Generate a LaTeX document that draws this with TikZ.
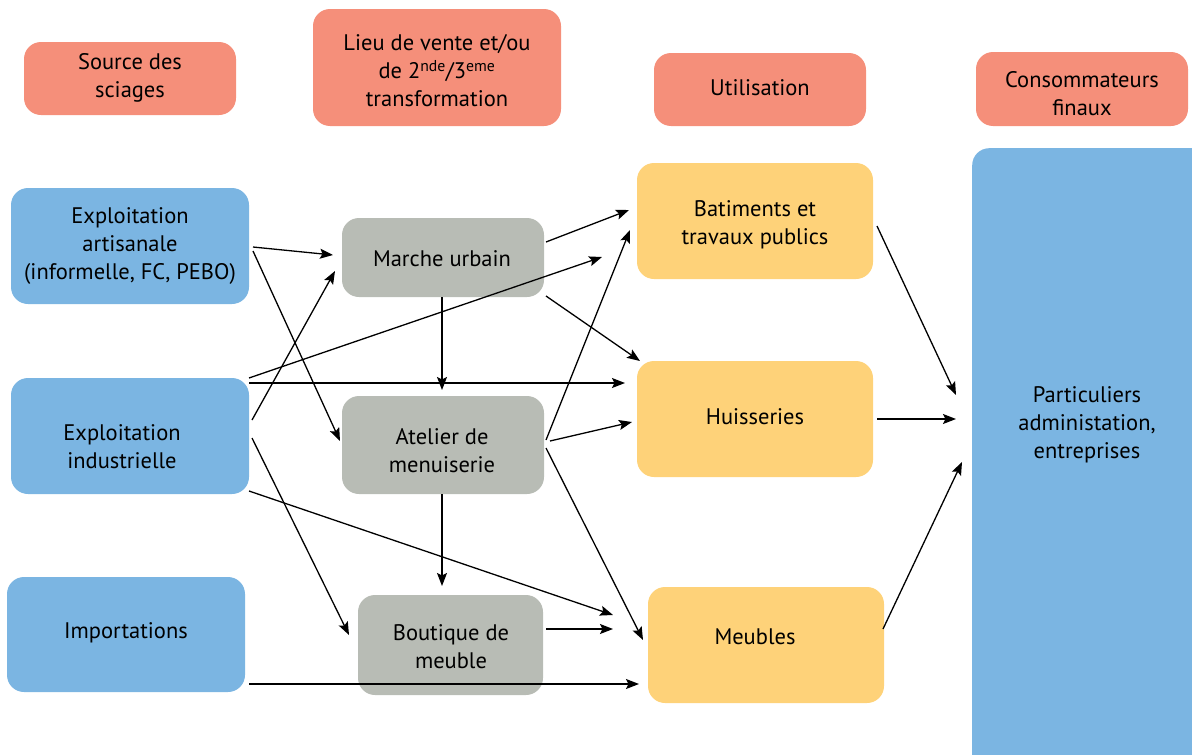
\documentclass[tikz,border=0pt]{standalone}
\usepackage{fontspec}
\setmainfont{PT Sans}
\usetikzlibrary{arrows.meta}
\definecolor{hdr}{HTML}{F58F7A}
\definecolor{src}{HTML}{7BB5E2}
\definecolor{mid}{HTML}{B8BCB5}
\definecolor{use}{HTML}{FED279}
\tikzset{
  box/.style={draw=none, rounded corners=17pt, inner sep=0pt},
  txt/.style={align=center, font=\fontsize{22.5}{28}\selectfont, text=black, inner sep=0pt},
  arr/.style={line width=1.3pt, -{Stealth[length=13pt,width=10pt,inset=2.5pt]}},
}
\newcommand{\mybox}[7]{\node[box,fill=#1,minimum width=#5pt,minimum height=#6pt] (#2) at (#3,#4) {};}
\begin{document}
\begin{tikzpicture}[x=1pt,y=-1pt]
\useasboundingbox (0,0) rectangle (1192,755);
% headers
\mybox{hdr}{h1}{130}{78.5}{212}{73}{}
\mybox{hdr}{h2}{437}{67.5}{248}{117}{}
\mybox{hdr}{h3}{760}{89.5}{212}{73}{}
\mybox{hdr}{h4}{1082}{89}{212}{74}{}
% sources
\mybox{src}{art}{130}{246}{238}{116}{}
\mybox{src}{ind}{130}{436}{238}{116}{}
\mybox{src}{imp}{126}{634.5}{238}{115}{}
% final consumers
\node[box,fill=src,minimum width=240pt,minimum height=640pt,anchor=north west] (fin) at (972,148) {};
% middle
\mybox{mid}{mar}{443}{257.5}{202}{79}{}
\mybox{mid}{ate}{443}{445}{202}{98}{}
\mybox{mid}{bou}{450.5}{645}{185}{100}{}
% use
\mybox{use}{bat}{755}{221}{236}{116}{}
\mybox{use}{hui}{755}{419}{236}{116}{}
\mybox{use}{meu}{766}{645}{236}{116}{}
% texts
\node[txt] (th1) at (130,78) {Source des\\sciages};
\node[txt] (th2) at (437,71) {Lieu de vente et/ou\\de 2\textsuperscript{nde}/3\textsuperscript{eme}\\transformation};
\node[txt] (th3) at (760,88) {Utilisation};
\node[txt] (th4) at (1082,94) {Consommateurs\\finaux};
\node[txt] (tart) at (130,246) {Exploitation\\artisanale\\(informelle, FC, PEBO)};
\node[txt] (tind) at (122,447) {Exploitation\\industrielle};
\node[txt] (timp) at (126,633) {Importations};
\node[txt] (tmar) at (442,259) {Marche urbain};
\node[txt] (tate) at (442,451) {Atelier de\\menuiserie};
\node[txt] (tbou) at (451,647) {Boutique de\\meuble};
\node[txt] (tbat) at (755,225) {Batiments et\\travaux publics};
\node[txt] (thui) at (755,417) {Huisseries};
\node[txt] (tmeu) at (755,637) {Meubles};
\node[txt] (tfin) at (1087,425) {Particuliers\\administation,\\entreprises};
% arrow end points
\coordinate (a1s) at (253,247); \coordinate (a1e) at (333,255);
\coordinate (a2s) at (253,251); \coordinate (a2e) at (340,441);
\coordinate (a3s) at (252,420); \coordinate (a3e) at (335,271);
\coordinate (a4s) at (249,378); \coordinate (a4e) at (602,257);
\coordinate (a5s) at (249,383); \coordinate (a5e) at (625,383);
\coordinate (a6s) at (442,297); \coordinate (a6e) at (442,390);
\coordinate (a7s) at (546,242); \coordinate (a7e) at (629,210);
\coordinate (a8s) at (546,296); \coordinate (a8e) at (640,361);
\coordinate (a9s) at (546,440); \coordinate (a9e) at (630,230);
\coordinate (a10s) at (550,441); \coordinate (a10e) at (632,422);
\coordinate (a11s) at (546,448); \coordinate (a11e) at (643,640);
\coordinate (a12s) at (442,494); \coordinate (a12e) at (442,586);
\coordinate (a13s) at (252,438); \coordinate (a13e) at (349,635);
\coordinate (a14s) at (249,491); \coordinate (a14e) at (613,615);
\coordinate (a15s) at (546,629); \coordinate (a15e) at (613,629);
\coordinate (a16s) at (249,684); \coordinate (a16e) at (639,684);
\coordinate (a17s) at (877,226); \coordinate (a17e) at (956,395);
\coordinate (a18s) at (877,419); \coordinate (a18e) at (956,419);
\coordinate (a19s) at (883,629); \coordinate (a19e) at (962,462);
\foreach \i in {1,...,19} {\draw[arr] (a\i s) -- (a\i e);}
\end{tikzpicture}
\end{document}
